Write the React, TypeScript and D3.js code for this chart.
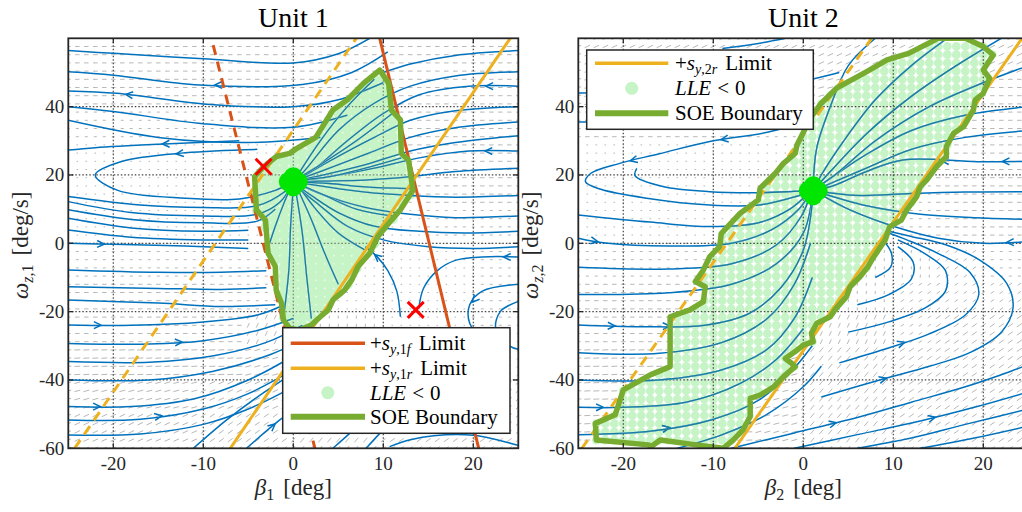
import React from "react";
import * as d3 from "d3";

type P = [number, number];
type Stream = { pts: P[]; arrows?: number[] };

const betaTicks = [-20, -10, 0, 10, 20];
const omegaTicks = [-60, -40, -20, 0, 20, 40];
const omegaGrid = [-40, -20, 0, 20, 40];

// ---- Unit 1 ----
const unit1FrontLimit: P[] = [[9.6, 60], [20.6, -60]];
const unit1FrontLimitNeg: P[] = [[-8.9, 58], [2.4, -60]];
const unit1RearLimit: P[] = [[-7, -60], [24.1, 60]];
const unit1RearLimitNeg: P[] = [[-24.3, -60], [7, 60]];
const unit1Eq: P = [0, 18];
const unit1Saddles: P[] = [[-3.3, 22.4], [13.6, -19.5]];

const unit1Soe: P[] = [
  [9.6, 50.7], [10.6, 46.8], [10.9, 39], [11.9, 36.1], [12, 26.3], [12.8, 24.4], [13.3, 15.6],
  [11.9, 9.8], [10.9, 6.8], [9.4, 2], [8.5, -2.9], [7.2, -6.8], [6.5, -10.7], [5.7, -13.7],
  [4.4, -16.6], [3.9, -19.5], [3, -21.5], [2, -23.9], [0.7, -25.4], [-0.4, -24.9], [-1.1, -22.4],
  [-1.3, -17.6], [-1.9, -13.7], [-2, -6.8], [-2.8, -2.9], [-3.1, 6.8], [-4.1, 9.8], [-4.3, 19.5],
  [-3.3, 22.4], [-1.9, 25.4], [-0.4, 26.3], [0.4, 27.8], [2.5, 31], [4.4, 39], [6, 42],
  [7.8, 46.8], [9.6, 50.7],
];

const unit1Streams: Stream[] = [
  { pts: [[8.5, 60], [5, 55.5], [0, 52.8], [-10, 54], [-20, 55.6], [-25, 56.4]] },
  { pts: [[10.5, 56], [6.5, 50], [1, 46.5], [-10.4, 46.3], [-20, 49.2], [-25, 50.2]], arrows: [0.55] },
  { pts: [[10, 47], [5, 42], [0, 40], [-10, 40.8], [-19.6, 43.9], [-25, 44.6]], arrows: [0.82] },
  { pts: [[6, 37.5], [0, 34], [-10, 35], [-20, 38.6], [-25, 40]] },
  { pts: [[3, 31], [-5, 29.5], [-15, 31], [-25, 36]] },
  { pts: [[-4, 27.5], [-12, 26.5], [-19, 24], [-22, 20], [-19.5, 15.5], [-12, 13.2], [-6, 13], [-2, 15.5], [-0.3, 17.6]], arrows: [0.22] },
  { pts: [[-6, 30], [-15, 29], [-22, 28], [-25, 27.3]], arrows: [0.45] },
  { pts: [[-25, 13.7], [-17, 11.2], [-10, 10.5], [-4, 11], [-1, 15], [-0.1, 17.4]] },
  { pts: [[-25, 12.2], [-18, 9], [-10, 8], [-4, 8.5], [-1.5, 12], [-0.2, 17]] },
  { pts: [[-25, 9.8], [-18, 7], [-10, 6], [-4, 6.5], [-2, 10]] },
  { pts: [[-25, 7.3], [-18, 4.5], [-10, 3.5], [-5, 3.8]] },
  { pts: [[-25, 3.9], [-18, 1.8], [-10, 1], [-5, 1]] },
  { pts: [[-25, 0], [-20, -0.3], [-12, -0.8], [-5, -1.5]], arrows: [0.2] },
  { pts: [[-25, -7.8], [-15, -8.5], [-8, -8.5], [-3, -8]] },
  { pts: [[-25, -12.7], [-15, -13.2], [-8, -13.5], [-3, -13]] },
  { pts: [[-25, -16.6], [-15, -17.5], [-8, -18.5], [-2, -18]] },
  { pts: [[-25, -23.9], [-18, -24], [-10, -23], [-4, -21], [-1, -18]], arrows: [0.15] },
  { pts: [[-25, -29.3], [-16, -29.5], [-10, -28.5], [-4, -25.5], [0, -22]], arrows: [0.5] },
  { pts: [[-25, -34.6], [-16, -34.8], [-9, -33], [-3, -29], [1, -24]] },
  { pts: [[-25, -40], [-16, -40], [-9, -37.5], [-3, -33], [2, -27]] },
  { pts: [[-25, -47.8], [-18, -47.8], [-11, -45.5], [-5, -40], [0, -33], [3, -28]], arrows: [0.12] },
  { pts: [[-25, -51.7], [-17, -51.5], [-10, -48.5], [-5, -44], [0, -37]], arrows: [0.4] },
  { pts: [[-25, -56.1], [-17, -55.8], [-10, -53], [-5, -48.5], [0, -42]] },
  { pts: [[-11.1, -60], [-7.4, -51.7], [-4, -45], [0, -38]] },
  { pts: [[-5.2, -60], [-1.5, -51.7], [2, -45], [4, -40]], arrows: [0.35] },
  { pts: [[4.4, -60], [6.7, -54.6], [9, -49], [11, -44]] },
  { pts: [[8.1, -60], [10, -54.6], [12, -50], [14, -45]] },
  { pts: [[25, 56.4], [18, 55], [13, 52.5], [10, 50]] },
  { pts: [[25, 50.2], [18, 49], [13, 46], [9, 41], [5, 33], [1.5, 22], [0.3, 18.5]] },
  { pts: [[25, 46], [19.5, 46], [14, 43.5], [10, 38], [6, 30], [2, 21], [0.4, 18.6]], arrows: [0.13] },
  { pts: [[25, 40], [18, 38.8], [13, 36], [9, 31], [4, 24], [0.6, 18.8]] },
  { pts: [[25, 35.5], [18, 33.8], [13, 31], [8, 26], [3, 21], [0.6, 18.7]] },
  { pts: [[25, 31.5], [18, 29.5], [13, 27], [8, 23], [3, 19.8], [0.6, 18.5]] },
  { pts: [[25, 27], [19.5, 27], [14, 25], [9, 22], [4, 19.5], [0.7, 18.3]], arrows: [0.15] },
  { pts: [[25, 22], [18, 21], [13, 19.5], [8, 18.5], [3, 18.2], [0.7, 18]] },
  { pts: [[25, 14], [18, 13.5], [13, 14], [8, 15], [3, 16.8], [0.7, 17.7]] },
  { pts: [[25, 8], [18, 7.5], [13, 8.5], [8, 10.5], [3, 14.5], [0.6, 17.3]] },
  { pts: [[25, 3.5], [19, 3], [14, 3.5], [9, 5], [5, 9], [2, 14], [0.4, 17]] },
  { pts: [[25, -1], [20, -1.5], [15, -1], [10, 1], [6, 5], [2.5, 12], [0.3, 16.8]] },
  { pts: [[25, -4], [21, -4], [18, -5], [16, -8], [14.5, -13], [14, -18]], arrows: [0.12] },
  { pts: [[11.9, -21.5], [11.5, -14], [10.5, -8], [9.3, -3.9], [8, -1]], arrows: [0.85] },
  { pts: [[25, -12], [21, -14], [19.6, -18], [19.6, -23.4], [21, -28]], arrows: [0.55] },
  { pts: [[25, -17], [23, -20], [22.5, -25], [24, -30], [25, -31]] },
  { pts: [[10.7, -59.5], [13, -57.5], [15.6, -56.3], [20, -56.2], [24.1, -58.5], [25, -59.2]] },
  { pts: [[9, 48], [6, 40], [3, 30], [0.5, 20]] },
  { pts: [[11, 38], [7, 30], [3, 23], [0.5, 19]] },
  { pts: [[12, 25], [8, 22], [4, 19.5], [0.5, 18.5]] },
  { pts: [[13, 16], [8, 16.5], [4, 17.5], [0.5, 18]] },
  { pts: [[11, 8], [7, 10], [3.5, 14], [0.5, 17.5]] },
  { pts: [[8, -2], [5, 3], [2.5, 10], [0.5, 17]] },
  { pts: [[5, -12], [3.5, -3], [2, 7], [0.3, 17]] },
  { pts: [[2, -22], [1.5, -10], [1, 3], [0.2, 16.5]] },
  { pts: [[-1, -20], [-0.5, -8], [-0.3, 5], [0, 16.5]] },
  { pts: [[-3, -3], [-2, 5], [-1, 12], [-0.2, 17]] },
];

// quiver look per 5 deg x 10 deg/s cell, rows from top (60) down, columns from -25 right
const unit1Quiver = [
  "cccccccccc",
  "ccccccbccc",
  "bbbbbbbccc",
  "aaaaaaaccc",
  "aaaaaaabcc",
  "aaaaaaaabb",
  "bbbbbaaaab",
  "ccccbjaaab",
  "ccccijjaab",
  "ddddeiikkk",
  "eeeffhhggg",
  "fffgghhggg",
];

// ---- Unit 2 ----
const unit2RearLimit: P[] = [[-7.6, -60], [24.3, 60]];
const unit2RearLimitNeg: P[] = [[-24.6, -60], [7.6, 60]];
const unit2Eq: P = [1.1, 15.4];

const unit2Soe: P[] = [
  [15, 60], [18, 60], [20, 57.6], [21.1, 55.1], [20, 50.7], [20.7, 48.3], [20, 43.9], [19.1, 42],
  [18.9, 39], [17.8, 34.1], [16.7, 32.2], [15.9, 28.3], [15.9, 25.4], [14.8, 22.4], [13.7, 18.5],
  [13, 16.6], [12.6, 13.7], [11.5, 9.8], [10.9, 6.8], [9.6, 4.9], [9.1, 1], [7.6, -4.9], [7.2, -6.8],
  [6.3, -9.8], [5.2, -12.7], [4.8, -15.6], [3.5, -19.5], [3, -21.5], [1.5, -23.4], [0.9, -26.3],
  [1.1, -28.8], [0, -29.8], [-0.9, -31.7], [-2, -33.7], [-1.3, -35.1], [-0.9, -36.1], [-2.2, -39],
  [-3.3, -42], [-4.8, -44.4], [-5.9, -45.4], [-5.9, -50.7], [-6.7, -54.6], [-7.8, -57.6], [-8.9, -60],
  [-11.9, -59], [-15.9, -57.6], [-16.9, -59.5], [-17.2, -59], [-23, -57.6], [-23.1, -52.7],
  [-20.9, -50.2], [-20, -42.9], [-17, -38.5], [-14.8, -36.1], [-14.8, -21.5], [-12.6, -19.5],
  [-11.1, -17.1], [-10.9, -12.7], [-12, -11.2], [-11.1, -7.8], [-10.4, -3.9], [-9.3, -1],
  [-9.1, 2.9], [-7, 8.8], [-5, 12.7], [-4.8, 16.1], [-3.1, 20.5], [-2.2, 23.4], [-0.9, 26.3],
  [-0.7, 28.8], [0.9, 37.1], [2, 41], [3.7, 45.4], [7, 50.2], [9.3, 53.7], [11.7, 55.6], [15, 60],
];

const unit2Streams: Stream[] = [
  { pts: [[4, 50], [-3, 46], [-12, 44.5], [-25, 44]] },
  { pts: [[1, 42], [-6, 38], [-14, 36], [-25, 35.5]] },
  { pts: [[1, 36], [-4, 32.5], [-10.4, 29.8], [-16, 26.2], [-20.4, 23.4], [-23.6, 20.5], [-24.2, 18], [-22.5, 15.8], [-17.4, 13.2], [-10.4, 11.2], [-5, 11.2], [-1.5, 13.2], [0.7, 15]], arrows: [0.2, 0.4] },
  { pts: [[-18.5, 21.9], [-18.7, 19.8], [-15.6, 16.6], [-10.4, 15.1], [-5, 14.8], [-1, 15.2], [0.6, 15.4]] },
  { pts: [[-25, 8.3], [-17, 6.2], [-10.4, 4.9], [-5, 6], [-1.5, 10], [0.5, 14.5]] },
  { pts: [[-25, 1.5], [-22, 0.1], [-15, -0.8], [-8, 0], [-3.5, 4], [-0.5, 10], [0.7, 14.5]], arrows: [0.08] },
  { pts: [[-25, -7], [-15, -7.5], [-8, -6], [-3, -0.5], [-0.2, 8], [0.8, 14.5]] },
  { pts: [[-25, -15], [-15, -14.5], [-8, -12], [-3, -6], [0, 3], [1, 14]] },
  { pts: [[-25, -23.9], [-18, -24.4], [-11, -24], [-6, -20.5], [-2.5, -13], [0, -2], [1, 12]], arrows: [0.12, 0.3] },
  { pts: [[-25, -32], [-16, -32.2], [-9, -29], [-4, -22], [-1, -12], [0.8, 0]] },
  { pts: [[-25, -40], [-16, -40], [-9, -37], [-4, -31], [-1, -22], [1, -10]] },
  { pts: [[-25, -48], [-20, -48], [-13, -46.5], [-7, -41], [-3, -34], [0, -25]], arrows: [0.1] },
  { pts: [[-25, -56], [-17, -55], [-10, -51.5], [-5, -46], [-1.5, -38], [1, -30]], arrows: [0.35] },
  { pts: [[-14, -60], [-9, -56], [-4, -50], [0, -42], [2, -36]] },
  { pts: [[-8, -60], [-1, -55.5], [6, -51], [12, -46.5], [18, -42], [23, -37.5], [25, -35.5]], arrows: [0.35] },
  { pts: [[-1, -60], [6, -56], [13, -52], [19, -48], [25, -43.5]], arrows: [0.6] },
  { pts: [[6, -60], [12, -57], [18, -53], [25, -48.5]] },
  { pts: [[13, -60], [19, -57], [25, -53.5]] },
  { pts: [[2, -45], [8.5, -40], [14, -36], [18.5, -32], [22, -26], [23.3, -19], [22.6, -11.7], [19.6, -4.9], [15.9, -0.5], [12, 2], [9.5, 3.5]], arrows: [0.18] },
  { pts: [[4, -35], [9, -31], [14, -26.5], [18, -21], [19.5, -15], [18.5, -8.5], [15, -3], [11.5, 1], [9.5, 3]], arrows: [0.25] },
  { pts: [[5, -26], [9.5, -23], [13.5, -19], [15.8, -14], [15.8, -8], [13.5, -3], [10.5, 1]] },
  { pts: [[6, -18], [9.5, -15], [12, -10.5], [12.2, -5.5], [10.5, -1]] },
  { pts: [[8, -10], [9.7, -7], [9.8, -3], [9, 0.5]] },
  { pts: [[25, 40], [18, 37.5], [12, 33], [7, 26], [3, 19], [1.3, 15.8]] },
  { pts: [[25, 33], [18, 31], [12, 27.5], [7, 22], [3, 17.5], [1.4, 15.6]] },
  { pts: [[25, 24], [19.3, 23.9], [11.1, 24.4], [7, 21], [3.5, 17], [1.5, 15.6]], arrows: [0.12, 0.4] },
  { pts: [[25, 15.1], [18, 15], [12, 14.6], [6, 14], [1.6, 15.3]] },
  { pts: [[25, 7], [19, 7.5], [13, 8.5], [7, 11], [2, 14.7]] },
  { pts: [[25, 0.5], [20, 0], [15, 1.5], [10, 5], [5, 10], [1.8, 14.5]], arrows: [0.1] },
  { pts: [[16, 60], [12, 52], [8, 42], [4.5, 30], [2, 20], [1.2, 16]] },
  { pts: [[22, 60], [17, 52], [12, 43], [7, 32], [3, 21], [1.3, 16]] },
  { pts: [[25, 52], [20, 47], [14, 40], [8, 30], [3.5, 20], [1.3, 16]] },
  { pts: [[8, 60], [5, 52], [3, 40], [1.5, 28], [1.1, 17]] },
  { pts: [[-9, 57], [-5, 58.5], [-2, 60]] },
];

const unit2Quiver = [
  "ffffffffff",
  "eeeeeefecc",
  "ccccbbbccc",
  "aaaaaabccc",
  "aaaaaaabcc",
  "aaaaaaabcc",
  "bbbbbajjkb",
  "ccccbjjkkk",
  "ccccbiikgg",
  "ddddehhggg",
  "ddddehhggg",
  "ddddehhggg",
];

// glyph: [screen angle deg, length px]
const quiverKinds: Record<string, [number, number]> = {
  a: [0, 1.6], b: [0, 3], c: [0, 4.5], d: [3, 6], e: [15, 6], f: [25, 6], g: [35, 6],
  h: [50, 6], i: [65, 5], j: [88, 3], k: [35, 4],
};

const BLUE = "#0072BD";
const TEAL = "#1a7d9c";
const RED = "#D95319";
const ORANGE = "#EDB120";
const GREEN = "#77AC30";
const LLE = "#c6f4c6";
const EQ = "#00e600";
const serif: React.CSSProperties = { fontFamily: "Liberation Serif, DejaVu Serif, serif" };

const TOP = 38.3;
const BOTTOM = 448.3;

function arrowPath(px: P[], f: number, size = 8) {
  const lens = [0];
  for (let i = 1; i < px.length; i++)
    lens.push(lens[i - 1] + Math.hypot(px[i][0] - px[i - 1][0], px[i][1] - px[i - 1][1]));
  const target = f * lens[lens.length - 1];
  let i = 1;
  while (i < px.length - 1 && lens[i] < target) i++;
  const t = (target - lens[i - 1]) / (lens[i] - lens[i - 1] || 1);
  const tx = px[i - 1][0] + t * (px[i][0] - px[i - 1][0]);
  const ty = px[i - 1][1] + t * (px[i][1] - px[i - 1][1]);
  const a = Math.atan2(px[i][1] - px[i - 1][1], px[i][0] - px[i - 1][0]);
  const w = 0.45;
  return `M${tx - size * Math.cos(a - w)},${ty - size * Math.sin(a - w)}L${tx},${ty}L${tx - size * Math.cos(a + w)},${ty - size * Math.sin(a + w)}`;
}

type PanelProps = {
  id: number;
  left: number;
  streams: Stream[];
  soe: P[];
  eq: P;
  saddles: P[];
  quiver: string[];
  lleR: number;
  tint: number;
  limits: { pts: P[]; color: string; dashed: boolean }[];
};

const Panel = ({ id, left, streams, soe, eq, saddles, quiver, lleR, tint, limits }: PanelProps) => {
  const x = d3.scaleLinear().domain([-25, 25]).range([left, left + 450]);
  const y = d3.scaleLinear().domain([-60, 60]).range([BOTTOM, TOP]);
  const line = d3.line<P>().x((d) => x(d[0])).y((d) => y(d[1])).curve(d3.curveCatmullRom.alpha(0.5));
  const poly = d3.line<P>().x((d) => x(d[0])).y((d) => y(d[1]));
  const gridX = d3.range(-25, 25.01, 1);
  const gridY = d3.range(0, 51).map((j) => -60 + j * 2.4);
  const clip = `clip${id}`;
  const soeClip = `soeclip${id}`;
  const soePath = (poly(soe) || "") + "Z";

  const arrows: { x: number; y: number; a: number; l: number }[] = [];
  gridX.forEach((gx) =>
    gridY.forEach((gy) => {
      const c = Math.min(9, Math.max(0, Math.floor((gx + 25) / 5)));
      const r = Math.min(11, Math.max(0, Math.floor((60 - gy) / 10)));
      const k = quiverKinds[quiver[r][c]];
      arrows.push({ x: x(gx), y: y(gy), a: (k[0] * Math.PI) / 180, l: k[1] });
    })
  );
  const lle: P[] = [];
  gridX.forEach((gx) => gridY.forEach((gy) => { if (d3.polygonContains(soe, [gx, gy])) lle.push([gx, gy]); }));

  const cross = (p: P, i: number) => {
    const cx = x(p[0]), cy = y(p[1]), s = 8;
    return <path key={i} d={`M${cx - s},${cy - s}L${cx + s},${cy + s}M${cx - s},${cy + s}L${cx + s},${cy - s}`} stroke="#ff0000" strokeWidth={3} />;
  };

  const ex = x(eq[0]), ey = y(eq[1]);
  const streamPaths = streams.map((s) => {
    const px = s.pts.map((p) => [x(p[0]), y(p[1])] as P);
    return { d: line(s.pts) || "", heads: (s.arrows || []).map((f) => arrowPath(px, f)) };
  });

  return (
    <g>
      <defs>
        <clipPath id={clip}>
          <rect x={left} y={TOP} width={450} height={BOTTOM - TOP} />
        </clipPath>
        <clipPath id={soeClip}>
          <path d={soePath} />
        </clipPath>
      </defs>
      <rect x={left} y={TOP} width={450} height={BOTTOM - TOP} fill="#fff" />
      <g clipPath={`url(#${clip})`}>
        <g stroke="#a6a6a6" strokeWidth={0.8}>
          {arrows.map((d, i) => (
            <line key={i} x1={d.x - (d.l / 2) * Math.cos(d.a)} y1={d.y + (d.l / 2) * Math.sin(d.a)}
              x2={d.x + (d.l / 2) * Math.cos(d.a)} y2={d.y - (d.l / 2) * Math.sin(d.a)} />
          ))}
        </g>
        <g fill={LLE}>
          {lle.map((d, i) => <circle key={i} cx={x(d[0])} cy={y(d[1])} r={lleR} />)}
        </g>
        <g stroke="#444" strokeWidth={1.2} strokeDasharray="1.5 2">
          {betaTicks.map((t) => <line key={t} x1={x(t)} x2={x(t)} y1={TOP} y2={BOTTOM} />)}
          {omegaGrid.map((t) => <line key={t} x1={left} x2={left + 450} y1={y(t)} y2={y(t)} />)}
        </g>
        <g fill="none" stroke={BLUE} strokeWidth={1.5}>
          {streamPaths.map((s, i) => (
            <g key={i}>
              <path d={s.d} />
              {s.heads.map((h, j) => <path key={j} d={h} />)}
            </g>
          ))}
        </g>
        <g clipPath={`url(#${soeClip})`}>
          <path d={soePath} fill={LLE} opacity={tint} />
          <g fill="none" stroke={TEAL} strokeWidth={1.3}>
            {streamPaths.map((s, i) => (
              <g key={i}>
                <path d={s.d} stroke="#fff" strokeWidth={1.8} opacity={0.5} />
                <path d={s.d} />
                {s.heads.map((h, j) => <path key={j} d={h} />)}
              </g>
            ))}
          </g>
        </g>
        {limits.map((l, i) => (
          <path key={i} d={poly(l.pts) || ""} stroke={l.color} strokeWidth={3} fill="none"
            strokeDasharray={l.dashed ? "10 7" : undefined} />
        ))}
        <path d={soePath} fill="none" stroke={GREEN} strokeWidth={5.5} strokeLinejoin="round" />
        {saddles.map(cross)}
        <g fill={EQ}>
          <circle cx={ex} cy={ey} r={11} />
          <circle cx={ex - 5} cy={ey} r={9.5} />
          <circle cx={ex + 5} cy={ey} r={9.5} />
          <circle cx={ex} cy={ey - 5} r={9.5} />
          <circle cx={ex} cy={ey + 5} r={9.5} />
        </g>
      </g>
      <g stroke="#262626" strokeWidth={1.3}>
        {betaTicks.map((t) => (
          <g key={t}>
            <line x1={x(t)} x2={x(t)} y1={BOTTOM} y2={BOTTOM - 5} />
            <line x1={x(t)} x2={x(t)} y1={TOP} y2={TOP + 5} />
          </g>
        ))}
        {omegaTicks.map((t) => (
          <g key={t}>
            <line x1={left} x2={left + 5} y1={y(t)} y2={y(t)} />
            <line x1={left + 450} x2={left + 445} y1={y(t)} y2={y(t)} />
          </g>
        ))}
      </g>
      <rect x={left} y={TOP} width={450} height={BOTTOM - TOP} fill="none" stroke="#262626" strokeWidth={1.8} />
      <g style={serif} fontSize={19} fill="#262626">
        {betaTicks.map((t) => (
          <text key={t} x={x(t)} y={470} textAnchor="middle">{t < 0 ? `-${-t}` : t}</text>
        ))}
        {omegaTicks.map((t) => (
          <text key={t} x={left - 4} y={y(t) + 6.5} textAnchor="end">{t < 0 ? `-${-t}` : t}</text>
        ))}
      </g>
      <text x={x(0)} y={26.5} textAnchor="middle" style={serif} fontSize={28} fill="#000">Unit {id}</text>
      <text x={x(0)} y={495} textAnchor="middle" style={serif} fontSize={23} fill="#262626">
        <tspan fontStyle="italic">β</tspan>
        <tspan fontSize={16} dy={5}>{id}</tspan>
        <tspan dy={-5} dx={9}>[deg]</tspan>
      </text>
      <text transform={`translate(${left - 40},${y(0) + 2}) rotate(-90)`} textAnchor="middle" style={serif} fontSize={23} fill="#262626">
        <tspan fontStyle="italic">ω</tspan>
        <tspan fontSize={16} dy={5} fontStyle="italic">z</tspan>
        <tspan fontSize={16}>,{id}</tspan>
        <tspan dy={-5} dx={9}>[deg/s]</tspan>
      </text>
    </g>
  );
};

const LegendLabel = ({ x, y, kind, sub }: { x: number; y: number; kind: string; sub?: string }) => {
  if (kind === "limit")
    return (
      <text x={x} y={y} style={serif} fontSize={21} fill="#000">
        <tspan>+</tspan>
        <tspan fontStyle="italic">s</tspan>
        <tspan fontSize={14} dy={4} fontStyle="italic">y</tspan>
        <tspan fontSize={14}>,{sub ? sub[0] : ""}</tspan>
        <tspan fontSize={14} fontStyle="italic">{sub ? sub.slice(1) : ""}</tspan>
        <tspan dy={-4} dx={8}>Limit</tspan>
      </text>
    );
  if (kind === "lle")
    return (
      <text x={x} y={y} style={serif} fontSize={21} fill="#000">
        <tspan fontStyle="italic">LLE</tspan>
        <tspan dx={6}>&lt;</tspan>
        <tspan dx={6}>0</tspan>
      </text>
    );
  return <text x={x} y={y} style={serif} fontSize={21} fill="#000">SOE Boundary</text>;
};

export default function App() {
  return (
    <div style={{ position: "absolute", left: 0, top: 0 }}>
      <svg width={1022} height={512} style={{ display: "block", background: "#fff" }}>
        <Panel id={1} left={68.3} streams={unit1Streams} soe={unit1Soe} eq={unit1Eq} saddles={unit1Saddles}
          quiver={unit1Quiver} lleR={5.4} tint={0.35}
          limits={[
            { pts: unit1FrontLimit, color: RED, dashed: false },
            { pts: unit1FrontLimitNeg, color: RED, dashed: true },
            { pts: unit1RearLimit, color: ORANGE, dashed: false },
            { pts: unit1RearLimitNeg, color: ORANGE, dashed: true },
          ]} />
        <Panel id={2} left={578.3} streams={unit2Streams} soe={unit2Soe} eq={unit2Eq} saddles={[]}
          quiver={unit2Quiver} lleR={4.4} tint={0}
          limits={[
            { pts: unit2RearLimit, color: ORANGE, dashed: false },
            { pts: unit2RearLimitNeg, color: ORANGE, dashed: true },
          ]} />
        {/* legend unit 1 */}
        <g>
          <rect x={282.7} y={327.7} width={227.3} height={105.6} fill="#fff" stroke="#262626" strokeWidth={1.5} />
          <line x1={290.7} x2={365} y1={343.3} y2={343.3} stroke={RED} strokeWidth={3.5} />
          <LegendLabel x={370} y={350} kind="limit" sub="1f" />
          <line x1={290.7} x2={365} y1={368.3} y2={368.3} stroke={ORANGE} strokeWidth={3.5} />
          <LegendLabel x={370} y={375} kind="limit" sub="1r" />
          <circle cx={327.8} cy={392.7} r={6.5} fill={LLE} />
          <LegendLabel x={370} y={399.5} kind="lle" />
          <line x1={290.7} x2={365} y1={416.7} y2={416.7} stroke={GREEN} strokeWidth={6} />
          <LegendLabel x={370} y={423.5} kind="soe" />
        </g>
        {/* legend unit 2 */}
        <g>
          <rect x={586.7} y={50} width={226.6} height={79.3} fill="#fff" stroke="#262626" strokeWidth={1.5} />
          <line x1={595} x2={668.3} y1={63.3} y2={63.3} stroke={ORANGE} strokeWidth={3.5} />
          <LegendLabel x={675} y={70} kind="limit" sub="2r" />
          <circle cx={631.7} cy={88.3} r={6.5} fill={LLE} />
          <LegendLabel x={675} y={95} kind="lle" />
          <line x1={595} x2={668.3} y1={113.3} y2={113.3} stroke={GREEN} strokeWidth={6} />
          <LegendLabel x={675} y={120} kind="soe" />
        </g>
      </svg>
    </div>
  );
}
